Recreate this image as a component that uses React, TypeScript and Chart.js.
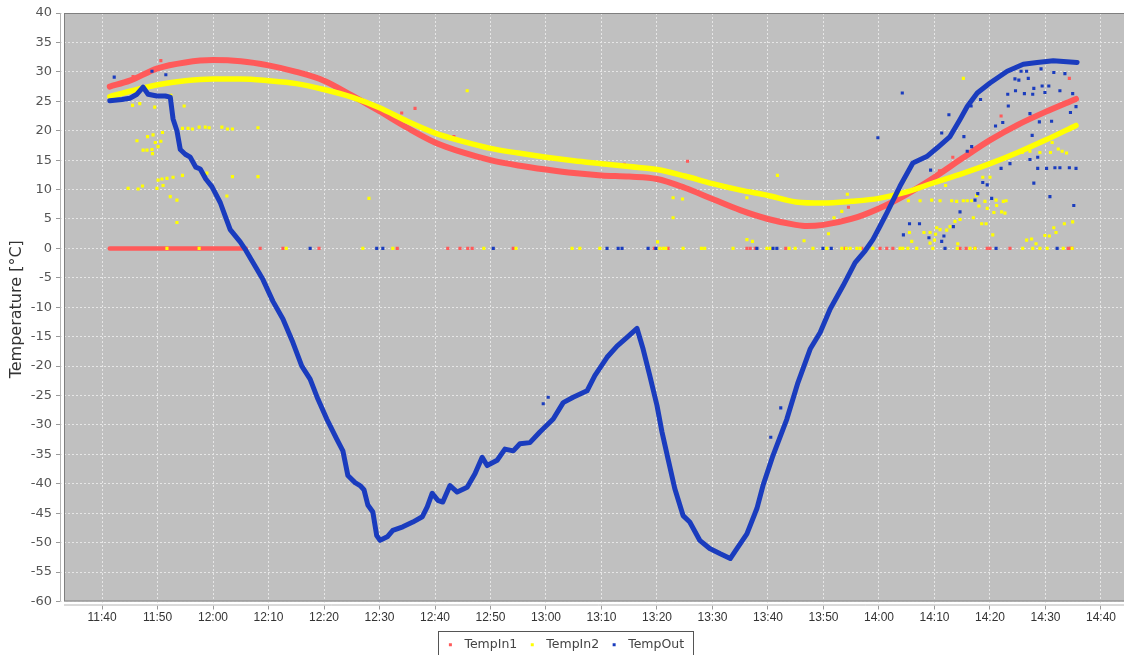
import { useEffect, useRef } from 'react';
import { Chart, registerables } from 'chart.js';

Chart.register(...registerables);

// time values are minutes since midnight
const X_TICKS = [700, 710, 720, 730, 740, 750, 760, 770, 780, 790, 800, 810, 820, 830, 840, 850, 860, 870, 880];
const Y_TICKS = [-60, -55, -50, -45, -40, -35, -30, -25, -20, -15, -10, -5, 0, 5, 10, 15, 20, 25, 30, 35, 40];
const X_MIN = 692.43;
const X_MAX = 885.77;
const Y_MIN = -60.678;
const Y_MAX = 40;

const SERIES_NAMES = ['TempIn1', 'TempIn2', 'TempOut'];
const SERIES_COLORS = ['#ff5a5a', '#ffff00', '#1a3cbe'];

const TEMPIN1_CURVE: [number, number][] = [
  [701.4, 27.5], [705.0, 28.5], [710.0, 30.6], [715.0, 31.6], [720.0, 32.0], [725.0, 31.8],
  [730.0, 31.1], [735.0, 30.0], [740.0, 28.5], [745.0, 26.0], [750.0, 23.3], [755.0, 20.5],
  [760.0, 18.0], [765.0, 16.3], [770.0, 15.0], [775.0, 14.1], [780.0, 13.4], [785.0, 12.8],
  [790.0, 12.4], [795.0, 12.2], [800.0, 11.8], [805.0, 10.3], [810.0, 8.4], [815.0, 6.5],
  [820.0, 5.0], [825.0, 4.0], [827.0, 3.8], [830.0, 4.0], [835.0, 5.0], [840.0, 6.8],
  [845.0, 9.2], [850.0, 12.1], [855.0, 15.3], [860.0, 18.4], [865.0, 21.0], [870.0, 23.2],
  [875.5, 25.4],
];
const TEMPIN1_ZERO_RUN: [number, number][] = [[701.4, 0], [725.9, 0]];
const TEMPIN1_DOTS: [number, number][] = [
  [705.6, 29.2], [710.6, 31.9], [754.0, 23.0], [756.4, 23.8], [763.4, 19.0], [794.1, 14.3],
  [805.5, 14.8], [834.5, 7.0], [862.0, 22.5], [853.3, 15.5], [850.9, 13.2], [874.3, 28.9],
  [728.5, 0], [732.6, 0], [739.1, 0], [753.2, 0], [762.3, 0], [764.5, 0], [765.9, 0], [766.7, 0],
  [774.1, 0], [799.5, 0], [802.0, 0], [816.2, 0], [816.8, 0], [817.7, 0], [823.2, 0], [833.9, 0],
  [836.9, 0], [840.2, 0], [841.4, 0], [842.5, 0], [854.6, 0], [855.7, 0], [857.3, 0], [859.5, 0],
  [860.0, 0], [863.6, 0], [874.1, 0], [874.5, 0], [874.8, 0],
];

const TEMPIN2_CURVE: [number, number][] = [
  [701.4, 25.8], [705.0, 26.7], [710.0, 27.8], [715.0, 28.5], [720.0, 28.8], [725.0, 28.8],
  [730.0, 28.5], [735.0, 28.0], [740.0, 27.0], [745.0, 25.7], [750.0, 23.9], [755.0, 21.6],
  [760.0, 19.6], [765.0, 18.2], [770.0, 17.0], [775.0, 16.2], [780.0, 15.5], [785.0, 14.9],
  [790.0, 14.4], [795.0, 13.9], [800.0, 13.4], [805.0, 12.3], [810.0, 11.0], [815.0, 9.9],
  [820.0, 9.0], [825.0, 7.9], [830.0, 7.7], [835.0, 8.0], [840.0, 8.5], [845.0, 9.6],
  [850.0, 11.2], [855.0, 12.7], [860.0, 14.4], [865.0, 16.3], [870.0, 18.4], [875.5, 20.9],
];
const TEMPIN2_DOTS: [number, number][] = [
  [705.5, 24.3], [706.8, 24.6], [709.5, 24.0], [712.4, 26.0], [714.8, 24.2],
  [706.3, 18.3], [708.2, 19.0], [709.2, 19.3], [710.9, 19.7], [709.6, 18.0], [710.1, 17.3],
  [707.4, 16.7], [708.1, 16.7], [709.0, 16.8], [709.1, 16.1], [710.6, 18.2],
  [714.5, 20.4], [715.5, 20.4], [716.3, 20.3], [717.5, 20.6], [718.6, 20.6], [719.3, 20.5],
  [721.6, 20.6], [722.6, 20.3], [723.5, 20.3], [728.1, 20.5],
  [718.9, 12.8], [723.5, 12.2], [728.1, 12.2], [714.5, 12.4], [712.8, 12.1], [711.7, 11.9],
  [710.8, 11.8], [710.1, 11.6], [704.7, 10.2], [706.5, 10.1], [707.3, 10.6], [709.9, 10.2],
  [711.0, 10.7], [722.5, 8.9], [712.3, 8.8], [713.5, 8.2], [713.5, 4.4],
  [765.8, 26.8], [748.1, 8.5], [802.9, 8.6], [802.9, 5.2], [804.6, 8.4], [800.1, 1.1],
  [821.7, 12.4], [816.2, 8.6], [816.2, 1.5], [817.2, 1.2], [826.5, 1.3], [830.9, 2.5],
  [831.9, 5.2], [833.3, 6.3], [834.3, 9.2],
  [855.2, 28.9], [871.2, 18.0], [872.3, 16.9], [873.0, 16.5], [873.8, 16.2], [870.9, 16.3],
  [869.0, 16.3], [867.2, 16.5], [865.8, 16.3], [858.7, 12.1], [860.0, 12.1], [852.0, 10.7],
  [844.7, 11.8], [845.3, 8.1], [847.4, 8.1], [849.5, 8.2], [851.0, 8.1], [853.1, 8.1],
  [854.0, 8.0], [855.2, 8.1], [855.9, 8.1], [856.7, 8.1], [859.1, 8.0], [861.1, 8.2],
  [862.9, 8.1], [857.6, 9.0], [858.0, 7.2], [859.5, 6.8], [861.2, 7.3], [862.4, 8.0],
  [860.7, 6.1], [862.1, 6.2], [862.7, 6.0], [854.6, 4.9], [853.7, 4.6], [857.0, 5.2],
  [858.5, 4.2], [859.3, 4.2], [850.4, 3.5], [851.0, 3.2], [852.2, 3.1], [852.8, 3.7],
  [848.1, 2.7], [849.2, 2.7], [850.2, 2.4], [845.5, 2.7], [845.9, 1.2], [849.2, 0.9],
  [850.0, 1.4], [854.2, 0.8], [860.5, 2.3], [866.6, 1.4], [867.5, 1.6], [868.3, 0.8],
  [869.9, 2.2], [870.7, 2.1], [871.5, 3.5], [871.9, 2.7], [873.4, 4.2], [874.9, 4.5],
  [711.7, 0], [717.5, 0], [733.2, 0], [747.0, 0], [752.4, 0], [768.8, 0], [774.6, 0],
  [784.7, 0], [786.1, 0], [789.7, 0], [800.5, 0], [801.1, 0], [801.6, 0], [804.7, 0],
  [808.0, 0], [808.6, 0], [813.7, 0], [819.8, 0], [820.4, 0], [823.8, 0], [824.9, 0],
  [828.1, 0], [830.6, 0], [833.3, 0], [834.1, 0], [834.8, 0], [836.0, 0], [836.6, 0],
  [838.9, 0], [843.8, 0], [844.3, 0], [845.2, 0], [846.8, 0], [849.7, 0], [854.1, 0],
  [856.4, 0], [857.3, 0], [865.9, 0], [867.7, 0], [869.0, 0], [870.3, 0], [873.2, 0],
  [874.8, 0],
];

const TEMPOUT_CURVE: [number, number][] = [
  [701.4, 25.1], [703.6, 25.3], [705.0, 25.5], [706.3, 26.2], [707.4, 27.4], [708.3, 26.2],
  [709.9, 25.9], [711.4, 25.9], [712.3, 25.7], [712.8, 22.0], [713.5, 20.0], [714.1, 16.8],
  [715.0, 16.0], [715.9, 15.5], [716.9, 13.8], [717.7, 13.5], [718.7, 11.8], [719.8, 10.5],
  [721.3, 7.8], [722.2, 5.5], [723.1, 3.2], [724.9, 1.1], [725.9, -0.3], [727.2, -2.4],
  [729.0, -5.3], [730.8, -9.0], [732.6, -12.0], [734.4, -16.0], [736.0, -20.0], [737.5, -22.2],
  [738.9, -25.6], [740.5, -29.0], [742.3, -32.4], [743.4, -34.4], [744.3, -38.6], [745.6, -39.8],
  [746.5, -40.3], [747.2, -41.0], [747.9, -43.6], [748.8, -44.8], [749.5, -48.8], [750.1, -49.6],
  [751.4, -49.0], [752.4, -47.9], [754.2, -47.3], [756.0, -46.5], [757.7, -45.6], [758.6, -43.9],
  [759.5, -41.6], [760.5, -42.8], [761.4, -43.1], [762.7, -40.3], [764.0, -41.4], [765.8, -40.6],
  [767.2, -38.3], [768.5, -35.5], [769.4, -36.9], [771.2, -36.0], [772.6, -34.1], [774.1, -34.4],
  [775.3, -33.2], [777.1, -33.0], [778.9, -31.2], [781.3, -29.0], [783.1, -26.2], [784.9, -25.3],
  [787.4, -24.2], [788.8, -21.6], [791.0, -18.5], [792.8, -16.6], [794.6, -15.1], [796.4, -13.6],
  [797.5, -17.1], [798.7, -21.6], [800.0, -26.7], [800.9, -31.2], [802.0, -35.8], [803.2, -40.8],
  [804.7, -45.4], [805.9, -46.5], [807.7, -49.6], [809.5, -51.0], [811.4, -51.9], [813.2, -52.7],
  [814.4, -51.0], [816.2, -48.5], [818.0, -44.2], [819.1, -40.3], [820.9, -35.2], [823.4, -29.0],
  [825.4, -22.8], [827.6, -17.1], [829.4, -14.3], [831.2, -10.3], [833.5, -6.4], [835.7, -2.4],
  [837.5, -0.4], [838.9, 1.5], [840.2, 3.8], [841.4, 6.0], [843.8, 10.6], [846.1, 14.5],
  [848.6, 15.6], [850.5, 17.1], [852.8, 19.0], [854.6, 21.9], [855.9, 24.1], [857.7, 26.4],
  [860.0, 28.1], [863.1, 30.1], [866.0, 31.3], [868.5, 31.6], [871.4, 31.9], [875.7, 31.6],
];
const TEMPOUT_DOTS: [number, number][] = [
  [702.2, 29.1], [709.0, 30.1], [711.5, 29.5],
  [779.5, -26.4], [780.4, -25.3], [822.3, -27.1], [820.5, -32.1],
  [844.2, 26.4], [839.8, 18.8], [852.6, 22.7], [851.3, 19.6], [855.3, 19.0], [856.7, 17.3],
  [855.9, 16.5], [849.3, 13.3], [858.3, 25.3], [856.6, 24.2], [861.0, 20.8], [862.3, 21.4],
  [863.3, 24.2], [863.2, 26.2], [864.6, 26.8], [864.5, 28.8], [865.2, 28.6], [865.6, 30.1],
  [866.6, 30.1], [866.9, 28.9], [866.2, 26.3], [867.7, 26.2], [867.9, 27.2], [869.2, 30.5],
  [869.4, 27.6], [870.6, 27.6], [869.9, 26.5], [871.5, 29.9], [872.6, 26.8], [873.5, 29.7],
  [874.9, 26.3], [874.5, 23.1], [875.5, 24.1], [867.2, 22.9], [868.9, 21.5], [871.1, 21.6],
  [867.6, 19.2], [868.6, 15.5], [867.2, 15.1], [863.6, 14.4], [862.0, 13.6], [868.6, 13.6],
  [870.2, 13.6], [871.7, 13.7], [872.6, 13.7], [874.3, 13.7], [875.5, 13.6], [867.9, 11.1],
  [858.7, 11.2], [859.5, 10.8], [857.8, 9.3], [857.3, 8.2], [860.3, 8.5], [870.8, 8.8],
  [875.1, 7.3], [854.6, 6.2], [853.4, 3.7], [845.5, 4.2], [847.3, 4.2], [844.4, 2.3],
  [849.0, 1.8], [851.7, 2.1], [851.3, 1.2],
  [737.5, 0], [749.5, 0], [750.6, 0], [770.5, 0], [791.0, 0], [793.0, 0], [793.7, 0],
  [798.4, 0], [799.8, 0], [818.0, 0], [820.9, 0], [821.6, 0], [829.9, 0], [831.4, 0],
  [851.9, 0], [861.1, 0], [872.1, 0],
];

const pts = (arr: [number, number][]) => arr.map(([x, y]) => ({ x, y }));

const fmtTime = (v: number) => {
  const h = Math.floor(v / 60);
  const m = Math.round(v - h * 60);
  return `${h}:${String(m).padStart(2, '0')}`;
};

const lineSet = (label: string, data: [number, number][], color: string, width: number, order: number, smooth: boolean) => ({
  label,
  data: pts(data),
  showLine: true,
  borderColor: color,
  backgroundColor: color,
  borderWidth: width,
  pointRadius: 0,
  pointHoverRadius: 0,
  borderJoinStyle: 'round' as const,
  borderCapStyle: 'round' as const,
  cubicInterpolationMode: smooth ? ('monotone' as const) : ('default' as const),
  tension: smooth ? 0.4 : 0,
  order,
});

const dotSet = (label: string, data: [number, number][], color: string, order: number) => ({
  label,
  data: pts(data),
  showLine: false,
  backgroundColor: color,
  borderColor: color,
  pointStyle: 'rect' as const,
  pointRadius: 2.2,
  pointBorderWidth: 0,
  pointHoverRadius: 0,
  order,
});

const jfreePlugin = {
  id: 'jfreeLook',
  beforeDraw(chart: any) {
    const { ctx, chartArea: a, scales } = chart;
    const bottom = scales.y.getPixelForValue(-60);
    ctx.save();
    ctx.fillStyle = '#ffffff';
    ctx.fillRect(0, 0, chart.width, chart.height);
    ctx.fillStyle = '#c0c0c0';
    ctx.fillRect(a.left + 4, a.top, a.right - a.left - 4, bottom - a.top);
    ctx.restore();
  },
  beforeDatasetsDraw(chart: any) {
    const { ctx, chartArea: a, scales } = chart;
    const bottom = scales.y.getPixelForValue(-60);
    ctx.save();
    ctx.strokeStyle = '#7f7f7f';
    ctx.lineWidth = 1;
    ctx.strokeRect(a.left + 4.5, a.top + 0.5, a.right - a.left - 5, bottom - a.top - 1);
    ctx.restore();
  },
  afterDraw(chart: any) {
    const { ctx, chartArea: a, scales } = chart;
    const bottom = scales.y.getPixelForValue(-60);
    ctx.save();
    ctx.strokeStyle = '#b4b4b4';
    ctx.lineWidth = 1;
    ctx.beginPath();
    ctx.moveTo(a.left + 0.5, a.top);
    ctx.lineTo(a.left + 0.5, bottom);
    ctx.moveTo(a.left + 4, a.bottom - 0.5);
    ctx.lineTo(a.right, a.bottom - 0.5);
    ctx.stroke();
    const hb = chart.legend && chart.legend.legendHitBoxes;
    if (hb && hb.length) {
      const first = hb[0];
      const last = hb[hb.length - 1];
      const left = Math.round(first.left - 11) + 0.5;
      const right = Math.round(last.left + last.width + 9) + 0.5;
      const top = Math.round(first.top - 8) + 0.5;
      ctx.strokeStyle = '#555555';
      ctx.strokeRect(left, top, right - left, 60);
    }
    ctx.restore();
  },
};

export default function App() {
  const ref = useRef<HTMLCanvasElement>(null);

  useEffect(() => {
    if (!ref.current) return;
    const datasets: any[] = [
      lineSet(SERIES_NAMES[0], TEMPIN1_CURVE, SERIES_COLORS[0], 6, 4, true),
      lineSet(SERIES_NAMES[1], TEMPIN2_CURVE, SERIES_COLORS[1], 5.5, 2, true),
      lineSet(SERIES_NAMES[2], TEMPOUT_CURVE, SERIES_COLORS[2], 5, 0, false),
      lineSet(SERIES_NAMES[0] + ' zero', TEMPIN1_ZERO_RUN, SERIES_COLORS[0], 4.5, 5, false),
      dotSet(SERIES_NAMES[0] + ' dots', TEMPIN1_DOTS, SERIES_COLORS[0], 6),
      dotSet(SERIES_NAMES[1] + ' dots', TEMPIN2_DOTS, SERIES_COLORS[1], 3),
      dotSet(SERIES_NAMES[2] + ' dots', TEMPOUT_DOTS, SERIES_COLORS[2], 1),
    ];
    const gridCommon = {
      color: '#e6e6e6',
      lineWidth: 1,
      drawTicks: true,
      tickLength: 4,
      tickColor: '#999999',
      tickBorderDash: [],
      tickWidth: 1,
    };
    const chart = new Chart(ref.current, {
      type: 'scatter',
      data: { datasets },
      plugins: [jfreePlugin],
      options: {
        animation: false,
        responsive: false,
        devicePixelRatio: 1,
        events: [],
        layout: { padding: { top: 13, right: 10, left: 0, bottom: 0 } },
        plugins: {
          tooltip: { enabled: false },
          title: { display: false },
          legend: {
            display: true,
            position: 'bottom',
            labels: {
              usePointStyle: true,
              boxWidth: 3,
              boxHeight: 3,
              padding: 13.5,
              color: '#444444',
              font: { family: 'DejaVu Sans', size: 12.5 },
              generateLabels: () =>
                SERIES_NAMES.map((name, i) => ({
                  text: '\u2002' + name,
                  fillStyle: SERIES_COLORS[i],
                  strokeStyle: SERIES_COLORS[i],
                  lineWidth: 0,
                  pointStyle: 'rect',
                  hidden: false,
                  datasetIndex: i,
                  fontColor: '#444444',
                })),
            },
          },
        },
        scales: {
          x: {
            type: 'linear',
            position: 'bottom',
            min: X_MIN,
            max: X_MAX,
            bounds: 'data',
            afterBuildTicks: (s: any) => {
              s.ticks = X_TICKS.map((v) => ({ value: v }));
            },
            afterFit: (s: any) => {
              s.height = 19.5;
            },
            grid: gridCommon,
            border: { display: false, dash: [2, 2] },
            ticks: {
              autoSkip: false,
              maxRotation: 0,
              padding: 1,
              color: '#333333',
              font: { family: 'Liberation Sans', size: 12 },
              callback: (v: any) => fmtTime(Number(v)),
            },
          },
          y: {
            type: 'linear',
            position: 'left',
            min: Y_MIN,
            max: Y_MAX,
            bounds: 'data',
            afterBuildTicks: (s: any) => {
              s.ticks = Y_TICKS.map((v) => ({ value: v }));
            },
            afterFit: (s: any) => {
              s.width = 60;
            },
            grid: gridCommon,
            border: { display: false, dash: [2, 2] },
            title: {
              display: true,
              text: 'Temperature [°C]',
              color: '#333333',
              font: { family: 'DejaVu Sans', size: 16 },
              padding: { top: 7, bottom: 0 },
            },
            ticks: {
              autoSkip: false,
              padding: 4,
              color: '#555555',
              font: { family: 'DejaVu Sans', size: 13 },
              callback: (v: any) => String(v),
            },
          },
        },
      } as any,
    });
    return () => chart.destroy();
  }, []);

  return (
    <div
      style={{
        position: 'fixed',
        left: 0,
        top: 0,
        width: 1124,
        height: 655,
        overflow: 'hidden',
        background: '#ffffff',
      }}
    >
      <canvas ref={ref} width={1143} height={661} style={{ display: 'block', width: 1143, height: 661 }} />
    </div>
  );
}
